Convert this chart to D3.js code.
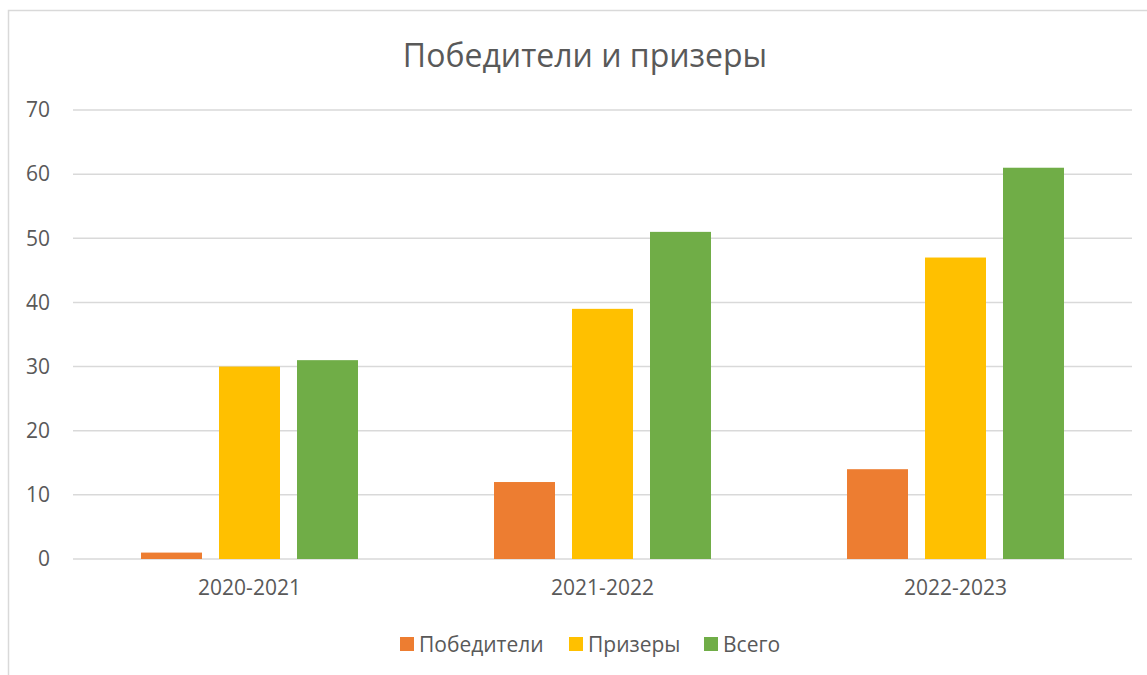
<!DOCTYPE html>
<html>
<head>
<meta charset="utf-8">
<script src="https://cdn.jsdelivr.net/npm/d3@7"></script>
<style>
  body { margin: 0; background: #fff; }
  text { font-family: "Open Sans", "Noto Sans", sans-serif; fill: #595959; }
</style>
</head>
<body>
<div id="wrapper"></div>
<script>
const categories = ["2020-2021", "2021-2022", "2022-2023"];
const seriesNames = ["Победители", "Призеры", "Всего"];
const pobediteli = [1, 12, 14];
const prizery = [30, 39, 47];
const vsego = [31, 51, 61];
const yTicks = [0, 10, 20, 30, 40, 50, 60, 70];
const colors = ["#ed7d31", "#ffc000", "#70ad47"];

const seriesValues = [pobediteli, prizery, vsego];
const data = categories.map((c, i) => ({
  cat: c,
  vals: seriesNames.map((s, j) => ({ series: s, value: seriesValues[j][i] }))
}));

const dimensions = {
  width: 1147,
  height: 675,
  margin: { top: 110, right: 15, bottom: 116, left: 73 },
};
dimensions.boundedWidth = dimensions.width - dimensions.margin.left - dimensions.margin.right;
dimensions.boundedHeight = dimensions.height - dimensions.margin.top - dimensions.margin.bottom;

const wrapper = d3.select("#wrapper")
  .append("svg")
  .attr("width", dimensions.width)
  .attr("height", dimensions.height);

// chart frame
wrapper.append("rect")
  .attr("x", 8.5).attr("y", 10.5)
  .attr("width", 1200).attr("height", 700)
  .attr("fill", "none")
  .attr("stroke", "#d9d9d9")
  .attr("stroke-width", 1.5);

const bounds = wrapper.append("g")
  .attr("transform", `translate(${dimensions.margin.left}, ${dimensions.margin.top})`);

const xScale = d3.scaleBand()
  .domain(categories)
  .range([0, dimensions.boundedWidth])
  .padding(0);

const x1Scale = d3.scaleBand()
  .domain(seriesNames)
  .range([0, xScale.bandwidth()])
  .paddingInner(0.218)
  .paddingOuter(0.872);

const yScale = d3.scaleLinear()
  .domain([0, 70])
  .range([dimensions.boundedHeight, 0]);

// gridlines
bounds.append("g")
  .selectAll("line")
  .data(yTicks)
  .enter().append("line")
    .attr("x1", 0)
    .attr("x2", dimensions.boundedWidth)
    .attr("y1", (d) => yScale(d))
    .attr("y2", (d) => yScale(d))
    .attr("stroke", "#d9d9d9")
    .attr("stroke-width", 1.5);

// bars
const groups = bounds.selectAll(".grp")
  .data(data)
  .enter().append("g")
    .attr("class", "grp")
    .attr("transform", (d) => `translate(${xScale(d.cat)}, 0)`);

groups.selectAll("rect")
  .data((d) => d.vals)
  .enter().append("rect")
    .attr("x", (d) => x1Scale(d.series))
    .attr("y", (d) => yScale(d.value))
    .attr("width", x1Scale.bandwidth())
    .attr("height", (d) => yScale(0) - yScale(d.value))
    .attr("fill", (d, i) => colors[i]);

// y axis labels
const yAxis = bounds.append("g")
  .call(d3.axisLeft(yScale).tickValues(yTicks).tickSize(0).tickPadding(23));
yAxis.select(".domain").remove();
yAxis.selectAll("text")
  .attr("font-size", 21)
  .style("font-family", "'Open Sans', 'Noto Sans', sans-serif")
  .attr("fill", "#595959");

// x axis labels
const xAxis = bounds.append("g")
  .attr("transform", `translate(0, ${dimensions.boundedHeight})`)
  .call(d3.axisBottom(xScale).tickSize(0).tickPadding(21));
xAxis.select(".domain").remove();
xAxis.selectAll("text")
  .attr("font-size", 21)
  .style("font-family", "'Open Sans', 'Noto Sans', sans-serif")
  .attr("fill", "#595959");

// title
wrapper.append("text")
  .attr("x", 585)
  .attr("y", 67)
  .attr("text-anchor", "middle")
  .attr("font-size", 32)
  .text("Победители и призеры");

// legend
const legendX = [400, 569, 704];
const legend = wrapper.append("g");
const items = legend.selectAll("g")
  .data(seriesNames)
  .enter().append("g")
    .attr("transform", (d, i) => `translate(${legendX[i]}, 637)`);
items.append("rect")
  .attr("width", 14).attr("height", 14)
  .attr("fill", (d, i) => colors[i]);
items.append("text")
  .attr("x", 19)
  .attr("y", 14.5)
  .attr("font-size", 21)
  .text((d) => d);
</script>
</body>
</html>
